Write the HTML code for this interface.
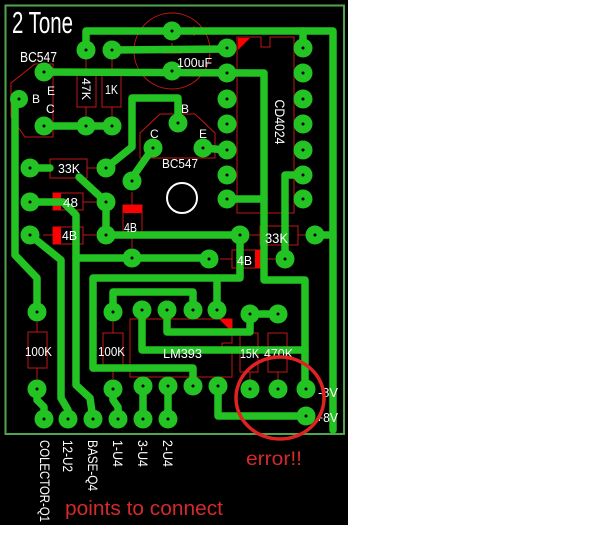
<!DOCTYPE html>
<html><head><meta charset="utf-8"><style>
html,body{margin:0;padding:0;background:#fff;}
svg{display:block;}
text{font-family:"Liberation Sans",sans-serif;}
</style></head><body>
<svg width="609" height="540" viewBox="0 0 609 540" xmlns="http://www.w3.org/2000/svg">
<rect x="0" y="0" width="609" height="540" fill="#fff"/>
<rect x="0" y="0" width="348" height="525" fill="#000"/>
<rect x="5.5" y="5.5" width="338.5" height="428.5" fill="none" stroke="#4fa64f" stroke-width="2"/>

<!-- silkscreen outlines -->
<g fill="none" stroke="#c01818" stroke-width="1">
  <circle cx="172" cy="51" r="38"/>
  <rect x="162" y="47" width="20" height="4"/>
  <line x1="162" y1="53" x2="182" y2="53"/>
  <line x1="172" y1="43" x2="172" y2="47"/>
  <line x1="189" y1="31" x2="199" y2="31"/>
  <line x1="194" y1="26" x2="194" y2="36"/>
  <rect x="77" y="69" width="19" height="38"/>
  <line x1="86" y1="59" x2="86" y2="69"/><line x1="86" y1="107" x2="86" y2="117"/>
  <rect x="102" y="69" width="19" height="38"/>
  <line x1="112" y1="59" x2="112" y2="69"/><line x1="112" y1="107" x2="112" y2="117"/>
  <rect x="50" y="159" width="37" height="19"/>
  <line x1="40" y1="168" x2="50" y2="168"/><line x1="87" y1="168" x2="97" y2="168"/>
  <rect x="260" y="226" width="38" height="19"/>
  <line x1="250" y1="235" x2="260" y2="235"/><line x1="298" y1="235" x2="306" y2="235"/>
  <rect x="28" y="332" width="19" height="36"/>
  <line x1="37" y1="322" x2="37" y2="332"/><line x1="37" y1="368" x2="37" y2="379"/>
  <rect x="103" y="333" width="20" height="35"/>
  <line x1="113" y1="322" x2="113" y2="333"/><line x1="113" y1="368" x2="113" y2="379"/>
  <rect x="240" y="333" width="18" height="39"/>
  <line x1="250" y1="372" x2="250" y2="380"/>
  <rect x="268" y="333" width="19" height="39"/>
  <line x1="278" y1="372" x2="278" y2="380"/>
  <rect x="53" y="193" width="30" height="17"/>
  <line x1="43" y1="202" x2="53" y2="202"/><line x1="83" y1="202" x2="96" y2="202"/>
  <rect x="53" y="227" width="30" height="17"/>
  <line x1="43" y1="235" x2="53" y2="235"/><line x1="83" y1="235" x2="96" y2="235"/>
  <rect x="123" y="205" width="19" height="30"/>
  <line x1="132" y1="192" x2="132" y2="205"/><line x1="132" y1="235" x2="132" y2="248"/>
  <rect x="232" y="250" width="31" height="18"/>
  <line x1="220" y1="259" x2="232" y2="259"/><line x1="263" y1="259" x2="275" y2="259"/>
  <polygon points="35,64 53,64 53,137 25,137 11,117 11,83"/>
  <polygon points="160,114 195,114 215,133 215,158 140,158 140,133"/>
  <path d="M237,37 L261,37 L261,47 L270,47 L270,37 L294,37 L294,213 L237,213 Z"/>
  <path d="M130,319 L232,319 L232,343 L222,343 L222,352 L232,352 L232,377 L130,377 Z"/>
</g>
<g fill="#ff0000">
  <rect x="53" y="193" width="8" height="17"/>
  <rect x="53" y="227" width="8" height="17"/>
  <rect x="123" y="205" width="19" height="8"/>
  <rect x="255" y="250" width="8" height="18"/>
  <polygon points="238,38 250,38 238,50"/>
  <polygon points="219,319 232,319 232,332"/>
</g>

<!-- traces -->
<g fill="none" stroke="#22c322" stroke-width="7.5" stroke-linecap="round" stroke-linejoin="round">
  <path d="M86,50 L86,31 L333,31 L333,430"/>
  <path d="M303,31 L303,48"/>
  <path d="M112,50 L227,49"/>
  <path d="M44,72 L264,73 L264,280 L305,280 L305,389"/>
  <path d="M44,126 L112,126"/>
  <path d="M19,99 L15,104 L15,255 L37,278 L37,312"/>
  <path d="M30,168 L50,168"/>
  <path d="M79,177 L106,202 L106,235 L240,235"/>
  <path d="M106,168 L132,147 L132,98 L178,98 L178,123"/>
  <path d="M153,148 L132,178 L132,181"/>
  <path d="M203,148 L227,150"/>
  <path d="M227,199 L264,199"/>
  <path d="M30,202 L63,202 L76,215 L76,385 L90,398 L93,419"/>
  <path d="M76,258 L209,258"/>
  <path d="M30,235 L61,260 L61,398 L68,410 L68,419"/>
  <path d="M93,368 L93,278 L240,278 L240,235"/>
  <path d="M217,278 L217,310"/>
  <path d="M93,368 L193,368 L193,386"/>
  <path d="M113,312 L113,292 L193,292 L193,310"/>
  <path d="M142,310 L142,350 L305,350"/>
  <path d="M167,310 L167,332 L250,332 L250,314 L278,314"/>
  <path d="M285,259 L285,175 L303,175"/>
  <path d="M315,235 L333,235"/>
  <path d="M218,386 L218,416 L306,416"/>
  <path d="M37,389 L37,400 L44,407 L44,419"/>
  <path d="M113,389 L113,400 L118,407 L118,419"/>
  <path d="M143,386 L143,419"/>
  <path d="M168,386 L168,419"/>
</g>

<!-- pads -->
<g fill="#22c322">
  <circle cx="86" cy="50" r="9.5"/><circle cx="112" cy="50" r="9.5"/>
  <circle cx="172" cy="31" r="9.5"/><circle cx="172" cy="71" r="9.5"/>
  <circle cx="44" cy="72" r="9.5"/><circle cx="19" cy="99" r="9"/>
  <circle cx="44" cy="126" r="9.5"/><circle cx="86" cy="126" r="9.5"/><circle cx="112" cy="126" r="9.5"/>
  <circle cx="227" cy="48" r="9.5"/><circle cx="227" cy="73" r="9.5"/><circle cx="227" cy="99" r="9.5"/>
  <circle cx="227" cy="124" r="9.5"/><circle cx="227" cy="150" r="9.5"/><circle cx="227" cy="175" r="9.5"/>
  <circle cx="227" cy="199" r="9.5"/>
  <circle cx="303" cy="48" r="9.5"/><circle cx="303" cy="73" r="9.5"/><circle cx="303" cy="99" r="9.5"/>
  <circle cx="303" cy="124" r="9.5"/><circle cx="303" cy="150" r="9.5"/><circle cx="303" cy="175" r="9.5"/>
  <circle cx="303" cy="199" r="9.5"/>
  <circle cx="178" cy="123" r="9.5"/><circle cx="153" cy="148" r="9.5"/><circle cx="203" cy="148" r="9.5"/>
  <circle cx="30" cy="168" r="9.5"/><circle cx="106" cy="168" r="9.5"/><circle cx="132" cy="181" r="9.5"/>
  <circle cx="30" cy="202" r="9.5"/><circle cx="106" cy="202" r="9.5"/>
  <circle cx="30" cy="235" r="9.5"/><circle cx="106" cy="235" r="9.5"/><circle cx="132" cy="258" r="9.5"/>
  <circle cx="240" cy="235" r="9.5"/><circle cx="315" cy="235" r="9.5"/>
  <circle cx="209" cy="259" r="9.5"/><circle cx="285" cy="259" r="9.5"/>
  <circle cx="37" cy="312" r="9.5"/><circle cx="113" cy="312" r="9.5"/>
  <circle cx="142" cy="310" r="9.5"/><circle cx="167" cy="310" r="9.5"/><circle cx="193" cy="310" r="9.5"/>
  <circle cx="217" cy="310" r="9.5"/><circle cx="250" cy="314" r="9.5"/><circle cx="278" cy="314" r="9.5"/>
  <circle cx="37" cy="389" r="9.5"/><circle cx="113" cy="389" r="9.5"/>
  <circle cx="143" cy="386" r="9.5"/><circle cx="168" cy="386" r="9.5"/><circle cx="193" cy="386" r="9.5"/>
  <circle cx="218" cy="386" r="9.5"/>
  <circle cx="250" cy="389" r="9.5"/><circle cx="278" cy="389" r="9.5"/><circle cx="306" cy="389" r="9.5"/>
  <circle cx="306" cy="416" r="9.5"/>
  <circle cx="44" cy="419" r="9.5"/><circle cx="68" cy="419" r="9.5"/><circle cx="93" cy="419" r="9.5"/>
  <circle cx="118" cy="419" r="9.5"/><circle cx="143" cy="419" r="9.5"/><circle cx="168" cy="419" r="9.5"/>
</g>
<g fill="#000">
  <circle cx="86" cy="50" r="1.5"/><circle cx="112" cy="50" r="1.5"/>
  <circle cx="172" cy="31" r="1.5"/><circle cx="172" cy="71" r="1.5"/>
  <circle cx="44" cy="72" r="1.5"/><circle cx="19" cy="99" r="1.5"/>
  <circle cx="44" cy="126" r="1.5"/><circle cx="86" cy="126" r="1.5"/><circle cx="112" cy="126" r="1.5"/>
  <circle cx="227" cy="48" r="1.5"/><circle cx="227" cy="73" r="1.5"/><circle cx="227" cy="99" r="1.5"/>
  <circle cx="227" cy="124" r="1.5"/><circle cx="227" cy="150" r="1.5"/><circle cx="227" cy="175" r="1.5"/>
  <circle cx="227" cy="199" r="1.5"/>
  <circle cx="303" cy="48" r="1.5"/><circle cx="303" cy="73" r="1.5"/><circle cx="303" cy="99" r="1.5"/>
  <circle cx="303" cy="124" r="1.5"/><circle cx="303" cy="150" r="1.5"/><circle cx="303" cy="175" r="1.5"/>
  <circle cx="303" cy="199" r="1.5"/>
  <circle cx="178" cy="123" r="1.5"/><circle cx="153" cy="148" r="1.5"/><circle cx="203" cy="148" r="1.5"/>
  <circle cx="30" cy="168" r="1.5"/><circle cx="106" cy="168" r="1.5"/><circle cx="132" cy="181" r="1.5"/>
  <circle cx="30" cy="202" r="1.5"/><circle cx="106" cy="202" r="1.5"/>
  <circle cx="30" cy="235" r="1.5"/><circle cx="106" cy="235" r="1.5"/><circle cx="132" cy="258" r="1.5"/>
  <circle cx="240" cy="235" r="1.5"/><circle cx="315" cy="235" r="1.5"/>
  <circle cx="209" cy="259" r="1.5"/><circle cx="285" cy="259" r="1.5"/>
  <circle cx="37" cy="312" r="1.5"/><circle cx="113" cy="312" r="1.5"/>
  <circle cx="142" cy="310" r="1.5"/><circle cx="167" cy="310" r="1.5"/><circle cx="193" cy="310" r="1.5"/>
  <circle cx="217" cy="310" r="1.5"/><circle cx="250" cy="314" r="1.5"/><circle cx="278" cy="314" r="1.5"/>
  <circle cx="37" cy="389" r="1.5"/><circle cx="113" cy="389" r="1.5"/>
  <circle cx="143" cy="386" r="1.5"/><circle cx="168" cy="386" r="1.5"/><circle cx="193" cy="386" r="1.5"/>
  <circle cx="218" cy="386" r="1.5"/>
  <circle cx="250" cy="389" r="1.5"/><circle cx="278" cy="389" r="1.5"/><circle cx="306" cy="389" r="1.5"/>
  <circle cx="306" cy="416" r="1.5"/>
  <circle cx="44" cy="419" r="1.5"/><circle cx="68" cy="419" r="1.5"/><circle cx="93" cy="419" r="1.5"/>
  <circle cx="118" cy="419" r="1.5"/><circle cx="143" cy="419" r="1.5"/><circle cx="168" cy="419" r="1.5"/>
</g>

<circle cx="182" cy="198" r="15" fill="none" stroke="#fff" stroke-width="2"/>

<g fill="#fff">
  <text x="12" y="33" font-size="31" textLength="61" lengthAdjust="spacingAndGlyphs">2 Tone</text>
  <text x="20" y="62" font-size="15" textLength="37" lengthAdjust="spacingAndGlyphs">BC547</text>
  <text x="47" y="95" font-size="12">E</text>
  <text x="32" y="103" font-size="12">B</text>
  <text x="46" y="113" font-size="12">C</text>
  <text transform="translate(86,89) rotate(90)" x="0" y="4" font-size="12" text-anchor="middle" textLength="22" lengthAdjust="spacingAndGlyphs">47K</text>
  <text x="105" y="94" font-size="13" textLength="13" lengthAdjust="spacingAndGlyphs">1K</text>
  <text x="177" y="67" font-size="13" textLength="35" lengthAdjust="spacingAndGlyphs">100uF</text>
  <text transform="translate(280,122) rotate(90)" x="0" y="5" font-size="14" text-anchor="middle" textLength="45" lengthAdjust="spacingAndGlyphs">CD4024</text>
  <text x="181" y="113" font-size="12">B</text>
  <text x="150" y="138" font-size="12">C</text>
  <text x="199" y="138" font-size="12">E</text>
  <text x="162" y="168" font-size="13" textLength="36" lengthAdjust="spacingAndGlyphs">BC547</text>
  <text x="58" y="173" font-size="13" textLength="22" lengthAdjust="spacingAndGlyphs">33K</text>
  <text x="63" y="207" font-size="13" textLength="15" lengthAdjust="spacingAndGlyphs">48</text>
  <text x="62" y="240" font-size="13" textLength="15" lengthAdjust="spacingAndGlyphs">4B</text>
  <text x="124" y="232" font-size="13" textLength="13" lengthAdjust="spacingAndGlyphs">4B</text>
  <text x="265" y="243" font-size="14" textLength="23" lengthAdjust="spacingAndGlyphs">33K</text>
  <text x="237" y="265" font-size="13" textLength="15" lengthAdjust="spacingAndGlyphs">4B</text>
  <text x="25" y="356" font-size="13" textLength="27" lengthAdjust="spacingAndGlyphs">100K</text>
  <text x="98" y="356" font-size="13" textLength="27" lengthAdjust="spacingAndGlyphs">100K</text>
  <text x="163" y="358" font-size="13" textLength="39" lengthAdjust="spacingAndGlyphs">LM393</text>
  <text x="240" y="358" font-size="13" textLength="19" lengthAdjust="spacingAndGlyphs">15K</text>
  <text x="264" y="358" font-size="13" textLength="29" lengthAdjust="spacingAndGlyphs">470K</text>
  <text x="318" y="397" font-size="13" textLength="20" lengthAdjust="spacingAndGlyphs">-8V</text>
  <text x="316" y="422" font-size="13" textLength="22" lengthAdjust="spacingAndGlyphs">+8V</text>
  <text transform="translate(50,440) rotate(90)" x="0" y="10" font-size="14" textLength="82" lengthAdjust="spacingAndGlyphs">COLECTOR-Q1</text>
  <text transform="translate(73,440) rotate(90)" x="0" y="10" font-size="14" textLength="32" lengthAdjust="spacingAndGlyphs">12-U2</text>
  <text transform="translate(98,440) rotate(90)" x="0" y="10" font-size="14" textLength="51" lengthAdjust="spacingAndGlyphs">BASE-Q4</text>
  <text transform="translate(123,440) rotate(90)" x="0" y="10" font-size="14" textLength="27" lengthAdjust="spacingAndGlyphs">1-U4</text>
  <text transform="translate(148,440) rotate(90)" x="0" y="10" font-size="14" textLength="27" lengthAdjust="spacingAndGlyphs">3-U4</text>
  <text transform="translate(173,440) rotate(90)" x="0" y="10" font-size="14" textLength="27" lengthAdjust="spacingAndGlyphs">2-U4</text>
</g>

<ellipse cx="280" cy="398" rx="44" ry="41" fill="none" stroke="#e02222" stroke-width="3.5"/>
<text x="246" y="465" font-size="19" fill="#d42a2a" textLength="56" lengthAdjust="spacingAndGlyphs">error!!</text>
<text x="65" y="515" font-size="20" fill="#d42a2a" textLength="158" lengthAdjust="spacingAndGlyphs">points to connect</text>
</svg>
</body></html>
